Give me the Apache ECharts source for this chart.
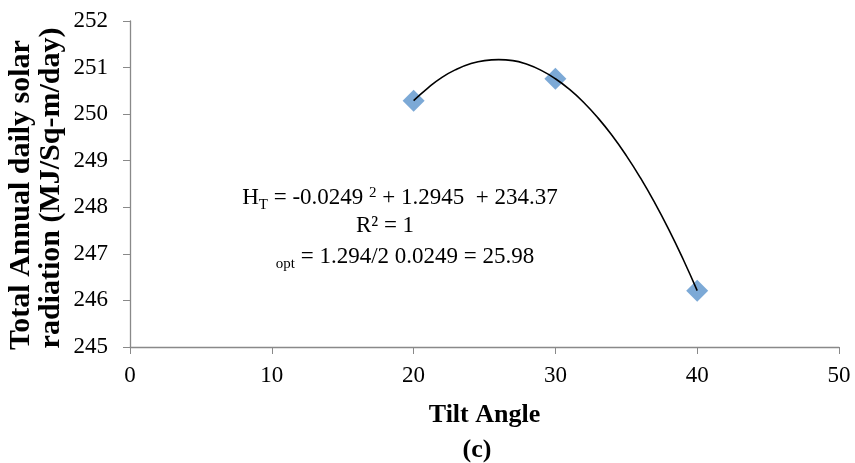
<!DOCTYPE html>
<html>
<head>
<meta charset="utf-8">
<script src="https://cdn.jsdelivr.net/npm/echarts@6/dist/echarts.min.js"></script>
<style>
  html, body { margin: 0; padding: 0; background: #fff; }
  #chart { width: 855px; height: 463px; }
</style>
</head>
<body>
<div id="chart"></div>
<script>
// measured points (tilt angle, radiation)
const tiltAngles = [20, 30, 40];
const radiation = [250.29, 250.76, 246.21];

// trendline
const trendX = [20, 21, 22, 23, 24, 25, 26, 27, 28, 29, 30, 31, 32, 33, 34, 35, 36, 37, 38, 39, 40];
const trendY = [250.29, 250.56, 250.79, 250.96, 251.08, 251.15, 251.17, 251.15, 251.07, 250.94, 250.76,
  250.53, 250.25, 249.92, 249.54, 249.11, 248.63, 248.10, 247.52, 246.89, 246.21];

const serif = "'Liberation Serif', 'DejaVu Serif', serif";

const chart = echarts.init(document.getElementById("chart"));

const option = {
  animation: false,
  grid: { left: 130, right: 16, top: 21, bottom: 116, outerBoundsMode: "none" },
  xAxis: {
    type: "value",
    min: 0,
    max: 50,
    interval: 10,
    name: "Tilt Angle",
    nameLocation: "middle",
    nameGap: 55,
    nameTextStyle: { fontFamily: serif, fontWeight: "bold", fontSize: 26, color: "#000" },
    axisLine: { show: true, lineStyle: { color: "#898989", width: 1.3 } },
    axisTick: { show: true, length: 7, lineStyle: { color: "#898989" } },
    axisLabel: { fontFamily: serif, fontSize: 23, color: "#000", margin: 17 },
    splitLine: { show: false },
  },
  yAxis: {
    type: "value",
    min: 245,
    max: 252,
    interval: 1,
    axisLine: { show: true, lineStyle: { color: "#898989", width: 1.3 } },
    axisTick: { show: true, length: 7, lineStyle: { color: "#898989" } },
    axisLabel: { fontFamily: serif, fontSize: 23, color: "#000", margin: 22 },
    splitLine: { show: false },
  },
  series: [
    {
      name: "trend",
      type: "line",
      smooth: true,
      symbol: "none",
      lineStyle: { color: "#000", width: 1.6 },
      data: trendX.map((x, i) => [x, trendY[i]]),
      z: 3,
    },
    {
      name: "data",
      type: "scatter",
      symbol: "diamond",
      symbolSize: 22,
      itemStyle: { color: "#5B94CC" },
      data: tiltAngles.map((x, i) => [x, radiation[i]]),
      z: 2,
    },
  ],
  graphic: [
    // y axis title, two lines
    {
      type: "text",
      x: 21,
      y: 195,
      rotation: Math.PI / 2,
      style: {
        text: "Total Annual daily solar",
        font: "bold 30px " + serif,
        fill: "#000",
        align: "center",
        verticalAlign: "middle",
      },
    },
    {
      type: "text",
      x: 51,
      y: 188,
      rotation: Math.PI / 2,
      style: {
        text: "radiation (MJ/Sq-m/day)",
        font: "bold 30px " + serif,
        fill: "#000",
        align: "center",
        verticalAlign: "middle",
      },
    },
    // trendline equation
    {
      type: "text",
      x: 400,
      y: 198,
      style: {
        text: "H{sub|T} = -0.0249 {sup|2} + 1.2945  + 234.37",
        font: "23px " + serif,
        fill: "#000",
        align: "center",
        verticalAlign: "middle",
        rich: {
          sub: { fontSize: 15, fontFamily: serif, padding: [14, 0, 0, 0] },
          sup: { fontSize: 15, fontFamily: serif, padding: [0, 0, 9, 0] },
        },
      },
    },
    {
      type: "text",
      x: 385,
      y: 226,
      style: {
        text: "R² = 1",
        font: "23px " + serif,
        fill: "#000",
        align: "center",
        verticalAlign: "middle",
      },
    },
    {
      type: "text",
      x: 405,
      y: 257,
      style: {
        text: "{sub|opt} = 1.294/2 0.0249 = 25.98",
        font: "23px " + serif,
        fill: "#000",
        align: "center",
        verticalAlign: "middle",
        rich: {
          sub: { fontSize: 15, fontFamily: serif, padding: [14, 0, 0, 0] },
        },
      },
    },
    {
      type: "text",
      x: 477,
      y: 450,
      style: {
        text: "(c)",
        font: "bold 26px " + serif,
        fill: "#000",
        align: "center",
        verticalAlign: "middle",
      },
    },
  ],
};

chart.setOption(option);
</script>
</body>
</html>
